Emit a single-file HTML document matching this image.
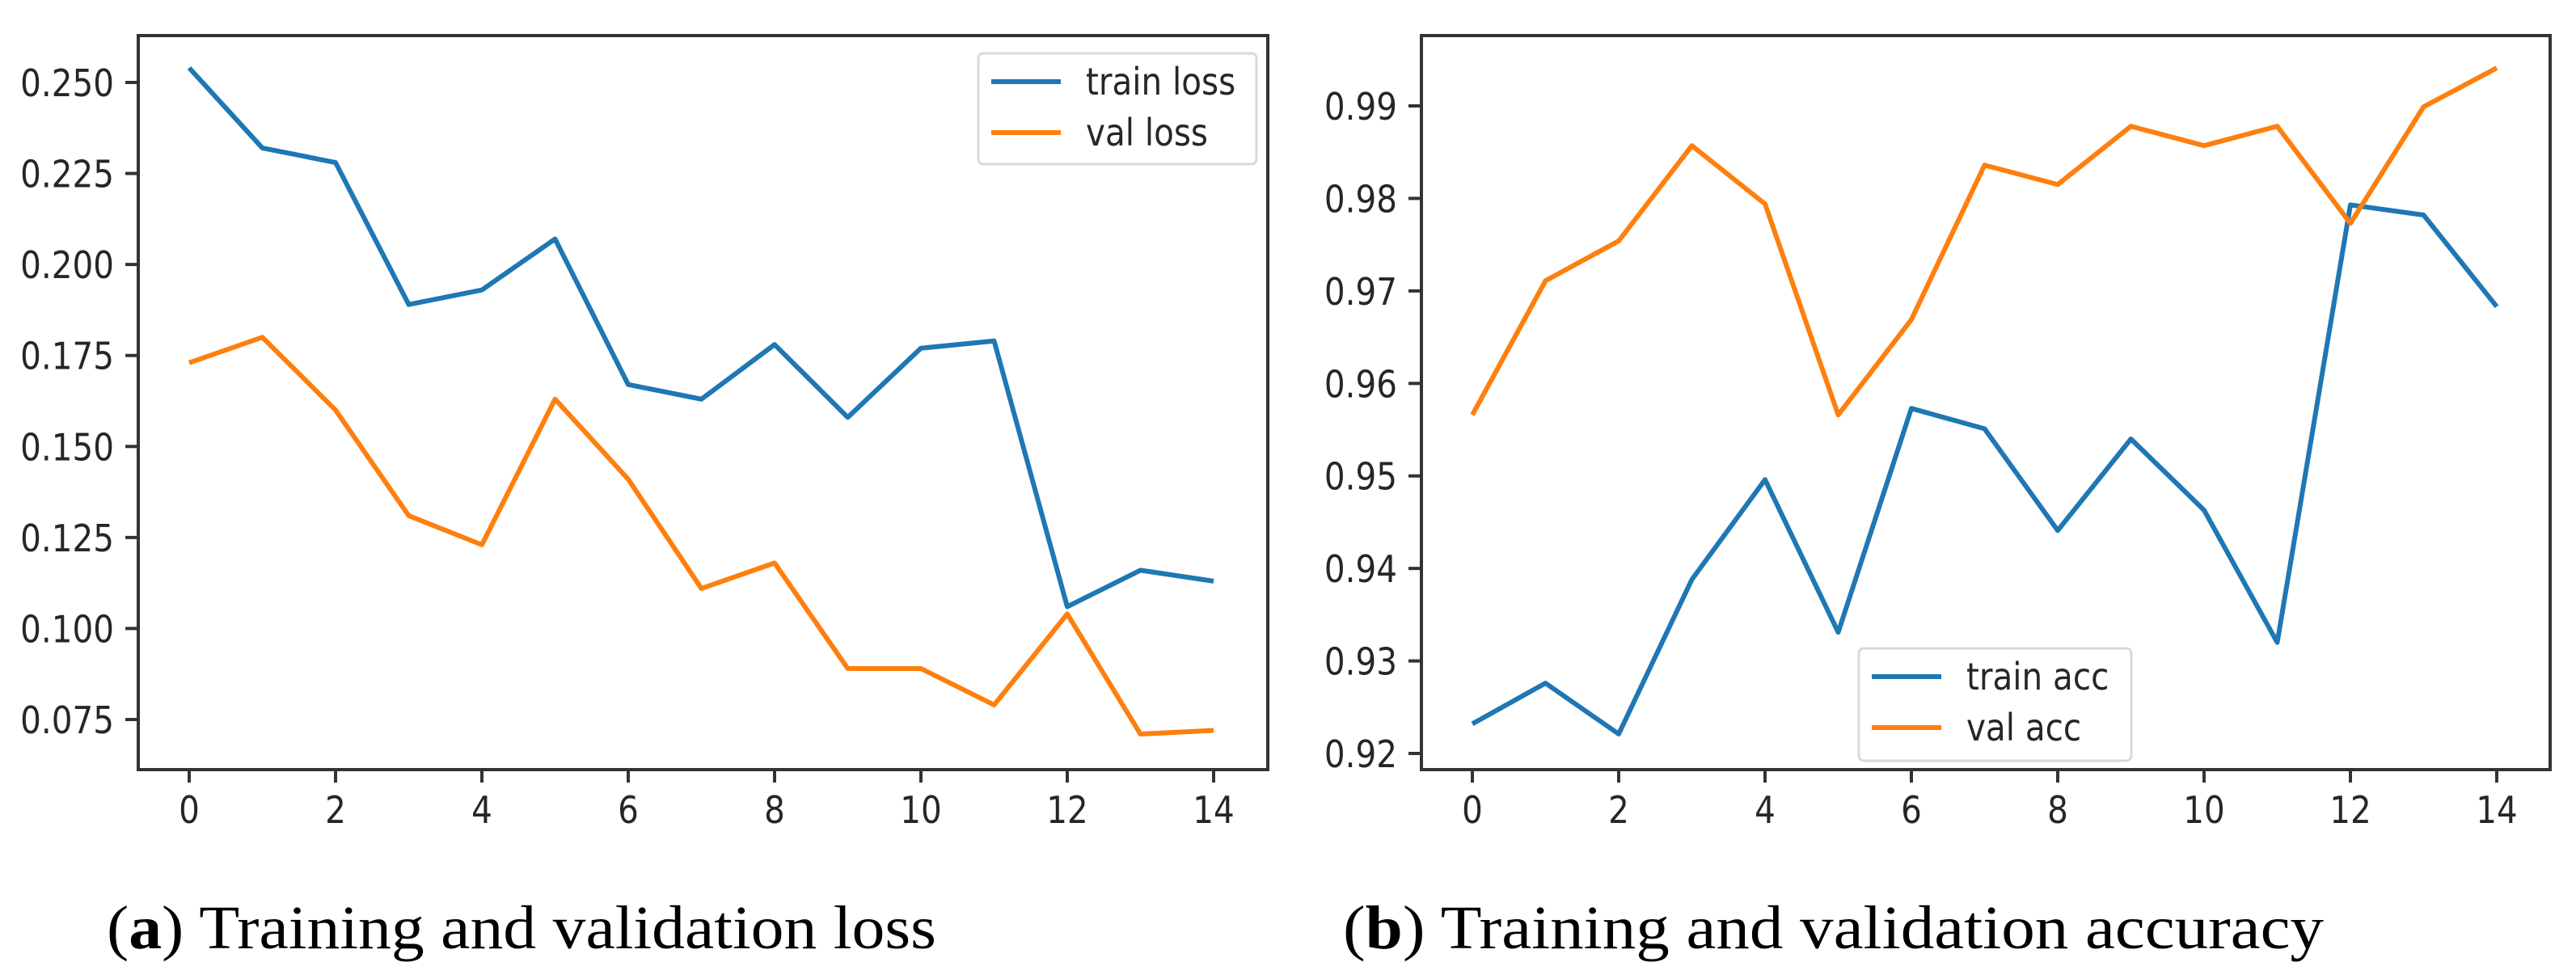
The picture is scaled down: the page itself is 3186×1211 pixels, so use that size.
<!DOCTYPE html>
<html><head><meta charset="utf-8"><style>
html,body{margin:0;padding:0;background:#fff}
svg{display:block}
.tk{font-family:"DejaVu Sans","Liberation Sans",sans-serif;font-size:46px;fill:#262626}
.cap{font-family:"Liberation Serif",serif;font-size:76px;fill:#000}
</style></head><body>
<svg id="chart" width="3186" height="1211" viewBox="0 0 3186 1211" xmlns="http://www.w3.org/2000/svg"></svg>
<script>
const epochs = [0,1,2,3,4,5,6,7,8,9,10,11,12,13,14];
const xTicks = [0,2,4,6,8,10,12,14];
const trainLoss = [0.254,0.232,0.228,0.189,0.193,0.207,0.167,0.163,0.178,0.158,0.177,0.179,0.106,0.116,0.113];
const valLoss = [0.173,0.180,0.160,0.131,0.123,0.163,0.141,0.111,0.118,0.089,0.089,0.079,0.104,0.071,0.072];
const lossTicks = [0.075,0.100,0.125,0.150,0.175,0.200,0.225,0.250];
const lossTickLabels = ["0.075","0.100","0.125","0.150","0.175","0.200","0.225","0.250"];
const trainAcc = [0.9232,0.9276,0.9221,0.9388,0.9496,0.9331,0.9573,0.9551,0.9441,0.9540,0.9463,0.9320,0.9793,0.9782,0.9683];
const valAcc = [0.9566,0.9711,0.9754,0.9857,0.9794,0.9566,0.9669,0.9836,0.9815,0.9878,0.9857,0.9878,0.9773,0.9899,0.9941];
const accTicks = [0.92,0.93,0.94,0.95,0.96,0.97,0.98,0.99];
const accTickLabels = ["0.92","0.93","0.94","0.95","0.96","0.97","0.98","0.99"];

const NS="http://www.w3.org/2000/svg";
const svg=document.getElementById('chart');
const SX=0.88;
function mk(tag,attrs,parent){const e=document.createElementNS(NS,tag);for(const k in attrs)e.setAttribute(k,attrs[k]);(parent||svg).appendChild(e);return e;}
function sq(ax){return `translate(${ax},0) scale(${SX},1) translate(${-ax},0)`;}

function panel(o){
  const g=mk('g',{});
  
  
  const x=v=>o.x0+(v-0)*(o.x14-o.x0)/14;
  const y=v=>o.yA+(v-o.vA)*(o.yB-o.yA)/(o.vB-o.vA);
  o.series.forEach(s=>{
    const p=mk('polyline',{points:epochs.map((e,i)=>x(e)+','+y(s.data[i])).join(' '),fill:'none',stroke:s.color,'stroke-width':6,'stroke-linejoin':'round'},g);
    
    
  });
  const fr=mk('rect',{x:o.L,y:o.T,width:o.R-o.L,height:o.B-o.T,fill:'none',stroke:'#333','stroke-width':4},g);
  
  
  xTicks.forEach(t=>{
    mk('line',{x1:x(t),x2:x(t),y1:o.B,y2:o.B+16,stroke:'#333','stroke-width':4},g);
    const tx=mk('text',{x:x(t),y:o.B+66,'text-anchor':'middle',class:'tk',transform:sq(x(t))},g);
    tx.textContent=t;
    
    
  });
  o.yTicks.forEach((t,i)=>{
    mk('line',{x1:o.L-16,x2:o.L,y1:y(t),y2:y(t),stroke:'#333','stroke-width':4},g);
    const tx=mk('text',{x:o.L-30,y:y(t)+17,'text-anchor':'end',class:'tk',transform:sq(o.L-30)},g);
    tx.textContent=o.yLabels[i];
    
    
  });
  const lg=mk('g',{},g);
  
  
  mk('rect',{x:o.lg.x,y:o.lg.y,width:o.lg.w,height:o.lg.h,rx:6,fill:'#fff','fill-opacity':0.8,stroke:'#d9d9d9','stroke-width':3},lg);
  o.series.forEach((s,i)=>{
    const ly=o.lg.y+35+i*63;
    mk('line',{x1:o.lg.x+16,x2:o.lg.x+102,y1:ly,y2:ly,stroke:s.color,'stroke-width':6},lg);
    const t=mk('text',{x:o.lg.x+133,y:ly+16,class:'tk',transform:sq(o.lg.x+133)},lg);
    t.textContent=s.label;
    
    
  });
  const c=mk('text',{x:o.cap.x,y:1173,class:'cap',textLength:o.cap.w,lengthAdjust:'spacingAndGlyphs'},g);
  c.innerHTML='(<tspan font-weight="bold">'+o.cap.l+'</tspan>) '+o.cap.t;
  
  
}

panel({name:'loss-panel',L:171,R:1568,T:44,B:952,x0:234,x14:1501,vA:0.250,yA:102,vB:0.075,yB:890,
  yTicks:lossTicks,yLabels:lossTickLabels,
  series:[{name:'train-loss-line',label:'train loss',data:trainLoss,color:'#1f77b4'},{name:'val-loss-line',label:'val loss',data:valLoss,color:'#ff7f0e'}],
  lg:{x:1210,y:66,w:344,h:137},cap:{x:132,w:1026,l:'a',t:'Training and validation loss'}});
panel({name:'accuracy-panel',L:1758,R:3154,T:44,B:952,x0:1821,x14:3088,vA:0.99,yA:131,vB:0.92,yB:932,
  yTicks:accTicks,yLabels:accTickLabels,
  series:[{name:'train-acc-line',label:'train acc',data:trainAcc,color:'#1f77b4'},{name:'val-acc-line',label:'val acc',data:valAcc,color:'#ff7f0e'}],
  lg:{x:2299,y:802,w:337,h:139},cap:{x:1661,w:1213,l:'b',t:'Training and validation accuracy'}});
</script>
</body></html>
